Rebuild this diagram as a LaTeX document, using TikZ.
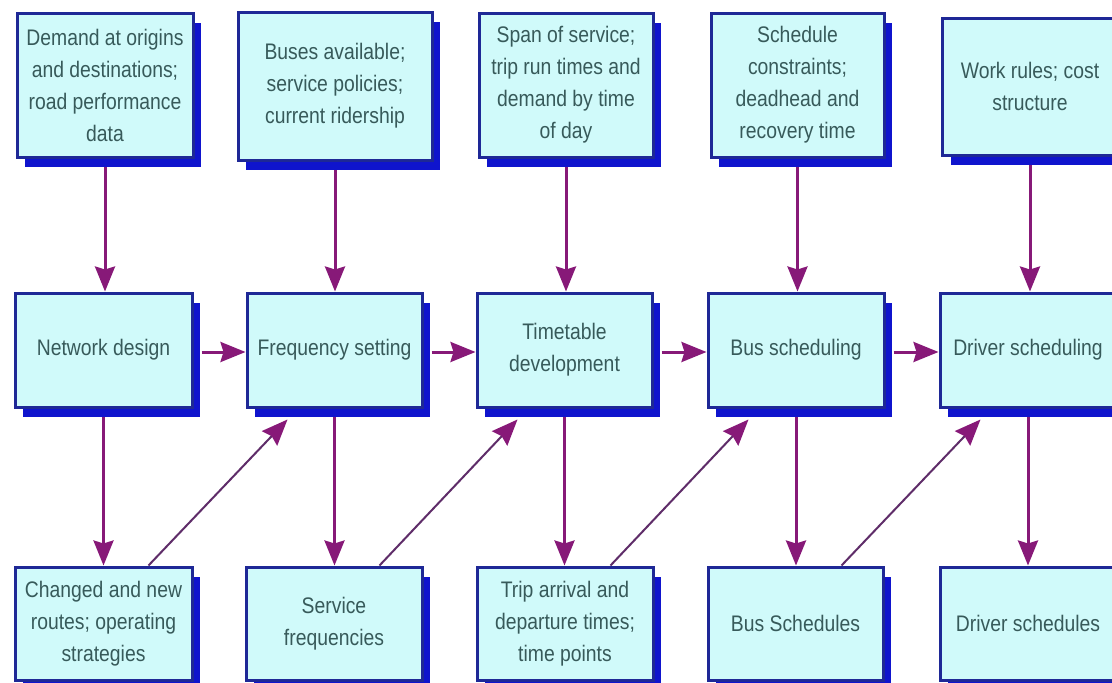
\documentclass[tikz,border=0pt]{standalone}
\usepackage{fontspec}
\setmainfont{Liberation Sans}[FakeStretch=0.86]
\usetikzlibrary{shadows,arrows.meta,calc}
\pgfdeclarelayer{paper}
\pgfdeclarelayer{background}
\pgfsetlayers{paper,background,main}
\definecolor{boxfill}{RGB}{208,250,250}
\definecolor{boxline}{RGB}{30,40,150}
\definecolor{shadowblue}{RGB}{15,20,205}
\definecolor{arrc}{RGB}{135,25,120}
\definecolor{diagc}{RGB}{95,45,105}
\definecolor{txt}{RGB}{55,90,90}
\begin{document}
\begin{tikzpicture}[x=1pt,y=-1pt,
  box/.style={draw=boxline, line width=3pt, fill=boxfill, text=txt, align=center,
    font=\fontsize{22.5}{32}\selectfont, inner sep=0pt,
    drop shadow={shadow xshift=8pt, shadow yshift=-10pt, fill=shadowblue, opacity=1}},
  arr/.style={draw=arrc, line width=3pt, -{Stealth[length=25pt,width=20pt,inset=3pt]}},
  diag/.style={draw=diagc, line width=2pt, -{Stealth[length=26pt,width=21pt,inset=3pt,fill=arrc,color=arrc]}}]
\begin{pgfonlayer}{paper}
\fill[white] (0,0) rectangle (1112,683);
\end{pgfonlayer}
\useasboundingbox (0,0) rectangle (1112,683);
% top row
\node[box, minimum width=176pt, minimum height=144pt] (T1) at (105,85)
  {Demand at origins\\and destinations;\\road performance\\data};
\node[box, minimum width=194pt, minimum height=148pt] (T2) at (335,86)
  {Buses available;\\service policies;\\current ridership};
\node[box, minimum width=174pt, minimum height=144pt] (T3) at (566,85)
  {Span of service;\\trip run times and\\demand by time\\of day};
\node[box, minimum width=173pt, minimum height=144pt] (T4) at (797.5,85)
  {Schedule\\constraints;\\deadhead and\\recovery time};
\node[box, minimum width=175pt, minimum height=137pt] (T5) at (1030,86.5)
  {Work rules; cost\\structure};
% middle row
\node[box, minimum width=177pt, minimum height=114pt] (M1) at (103.5,350) {Network design};
\node[box, minimum width=175pt, minimum height=114pt] (M2) at (334.5,350) {Frequency setting};
\node[box, minimum width=175pt, minimum height=114pt] (M3) at (564.5,350) {Timetable\\development};
\node[box, minimum width=176pt, minimum height=114pt] (M4) at (796,350) {Bus scheduling};
\node[box, minimum width=176pt, minimum height=114pt] (M5) at (1028,350) {Driver scheduling};
% bottom row
\node[box, minimum width=177pt, minimum height=113pt] (B1) at (103.5,623.5)
  {Changed and new\\routes; operating\\strategies};
\node[box, minimum width=176pt, minimum height=113pt] (B2) at (334,623.5)
  {Service\\frequencies};
\node[box, minimum width=176pt, minimum height=113pt] (B3) at (565,623.5)
  {Trip arrival and\\departure times;\\time points};
\node[box, minimum width=175pt, minimum height=113pt] (B4) at (795.5,623.5)
  {Bus Schedules};
\node[box, minimum width=176pt, minimum height=113pt] (B5) at (1028,623.5)
  {Driver schedules};
\begin{pgfonlayer}{background}
  \foreach \t/\m/\b in {T1/M1/B1,T2/M2/B2,T3/M3/B3,T4/M4/B4,T5/M5/B5}{
    \draw[arr] (\t.south) -- (\t.south |- \m.north);
    \draw[arr] (\m.south) -- (\m.south |- \b.north);
  }
  \foreach \a/\b in {M1/M2,M2/M3,M3/M4,M4/M5}{
    \draw[arr] ([xshift=8pt,yshift=-2pt]\a.east) -- ([yshift=-2pt]\b.west);
  }
  \foreach \a/\b in {B1/M2,B2/M3,B3/M4,B4/M5}{
    \coordinate (s\a) at ($(\a.north west)+(135,0)$);
    \coordinate (e\a) at ($(\b.south west)+(42,11)$);
    \draw[diag] (s\a) -- (e\a);
  }
\end{pgfonlayer}
\end{tikzpicture}
\end{document}
